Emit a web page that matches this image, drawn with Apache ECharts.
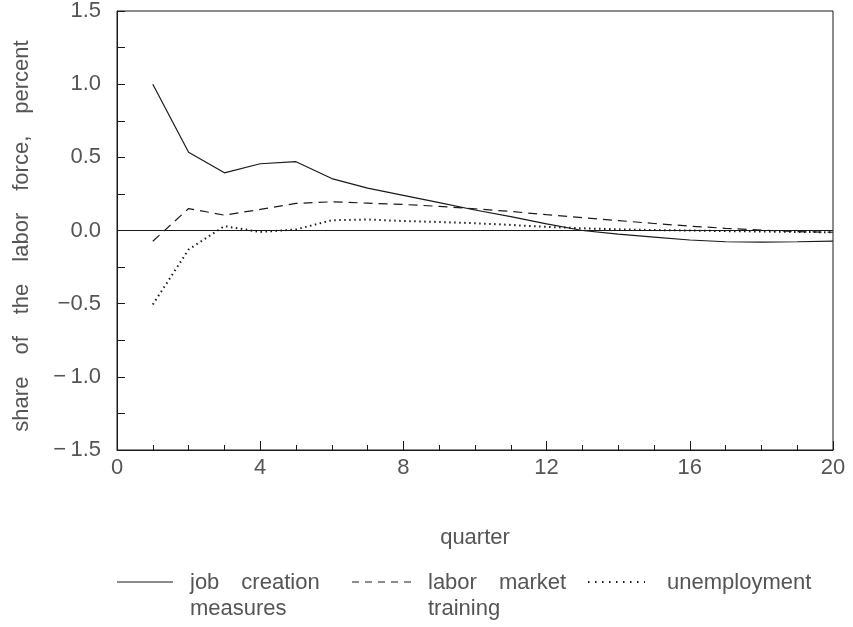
<!DOCTYPE html>
<html>
<head>
<meta charset="utf-8">
<script src="https://cdn.jsdelivr.net/npm/echarts@6/dist/echarts.min.js"></script>
<style>
  html, body { margin: 0; padding: 0; background: #fff; }
  #chart { width: 853px; height: 627px; }
</style>
</head>
<body>
<div id="chart"></div>
<script>
// quarters 1..20
const quarters = [1, 2, 3, 4, 5, 6, 7, 8, 9, 10, 11, 12, 13, 14, 15, 16, 17, 18, 19, 20]
const jobCreation = [1.0, 0.535, 0.394, 0.456, 0.47, 0.355, 0.29, 0.24, 0.19, 0.14, 0.095, 0.045, 0.0, -0.025, -0.045, -0.065, -0.077, -0.08, -0.077, -0.072]
const laborTraining = [-0.073, 0.15, 0.105, 0.144, 0.185, 0.196, 0.187, 0.178, 0.165, 0.148, 0.13, 0.108, 0.088, 0.068, 0.048, 0.03, 0.015, 0.003, -0.008, -0.012]
const unemployment = [-0.506, -0.13, 0.03, -0.01, 0.007, 0.07, 0.075, 0.065, 0.058, 0.05, 0.038, 0.025, 0.015, 0.008, 0.003, 0.0, -0.004, -0.007, -0.01, -0.012]
const legendNames = [['job\u2003creation', 'measures'], ['labor\u2003market', 'training'], ['unemployment']]
const yTitle = ['share', 'of', 'the', 'labor', 'force,', 'percent'].join('\u2003') + '\u2002'

const pairs = (ys) => quarters.map((q, i) => [q, ys[i]])
const font = 'Liberation Sans'
const ink = '#1a1a1a'
const txt = '#555'

const chart = echarts.init(document.getElementById('chart'))

// minus sign like the original, with a small gap before the 1s
const fmtY = (v) => {
  const s = Math.abs(v).toFixed(1)
  if (v > -1e-9) return s
  return (s[0] === '1' ? '\u2212\u2009' : '\u2212') + s
}

const legendGraphic = []
const legendX = [117, 352, 588]
const legendW = [56, 59, 57]
const legendTextX = [190, 428, 667]
const legendDash = [null, [7, 6], [1.5, 5.5]]
const legendWidth = [1.2, 1.2, 2]
legendNames.forEach((lines, i) => {
  legendGraphic.push({
    type: 'line',
    shape: { x1: legendX[i], y1: 582, x2: legendX[i] + legendW[i], y2: 582 },
    style: { stroke: ink, lineWidth: legendWidth[i], lineDash: legendDash[i] }
  })
  legendGraphic.push({
    type: 'text',
    x: legendTextX[i],
    y: 570,
    style: { text: lines.join('\n'), font: '22px ' + font, fill: txt, lineHeight: 26 }
  })
})

const option = {
  animation: false,
  grid: { left: 117, right: 20, top: 11, bottom: 177 },
  xAxis: {
    type: 'value',
    min: 0,
    max: 20,
    interval: 4,
    name: 'quarter',
    nameLocation: 'middle',
    nameGap: 77,
    nameTextStyle: { fontFamily: font, fontSize: 22, color: txt },
    axisLine: { show: true, onZero: false, lineStyle: { color: ink, width: 1 } },
    axisTick: { show: true, inside: true, length: 9, lineStyle: { color: ink } },
    minorTick: { show: true, splitNumber: 4, length: 5, lineStyle: { color: ink } },
    axisLabel: { fontFamily: font, fontSize: 22, color: txt, margin: 7 },
    splitLine: { show: false }
  },
  yAxis: {
    type: 'value',
    min: -1.5,
    max: 1.5,
    interval: 0.5,
    name: yTitle,
    nameLocation: 'middle',
    nameGap: 84,
    nameTextStyle: { fontFamily: font, fontSize: 22, color: txt },
    axisLine: { show: true, onZero: false, lineStyle: { color: ink, width: 1 } },
    axisTick: { show: true, inside: true, length: 8, lineStyle: { color: ink } },
    minorTick: { show: true, splitNumber: 2, length: 8, lineStyle: { color: ink } },
    axisLabel: { fontFamily: font, fontSize: 22, color: txt, margin: 16, formatter: fmtY },
    splitLine: { show: false }
  },
  graphic: [
    {
      type: 'rect',
      shape: { x: 117, y: 11, width: 716, height: 439 },
      style: { fill: 'none', stroke: ink, lineWidth: 1 },
      silent: true
    }
  ].concat(legendGraphic),
  series: [
    {
      name: 'job creation measures',
      type: 'line',
      data: pairs(jobCreation),
      showSymbol: false,
      lineStyle: { color: ink, width: 1.2, type: 'solid' },
      markLine: {
        silent: true,
        symbol: 'none',
        label: { show: false },
        lineStyle: { color: ink, width: 1.2, type: 'solid' },
        data: [{ yAxis: 0 }]
      }
    },
    {
      name: 'labor market training',
      type: 'line',
      data: pairs(laborTraining),
      showSymbol: false,
      lineStyle: { color: ink, width: 1.2, type: [9, 6] }
    },
    {
      name: 'unemployment',
      type: 'line',
      data: pairs(unemployment),
      showSymbol: false,
      lineStyle: { color: ink, width: 2, type: [1.5, 3.5] }
    }
  ]
}

chart.setOption(option)
</script>
</body>
</html>
